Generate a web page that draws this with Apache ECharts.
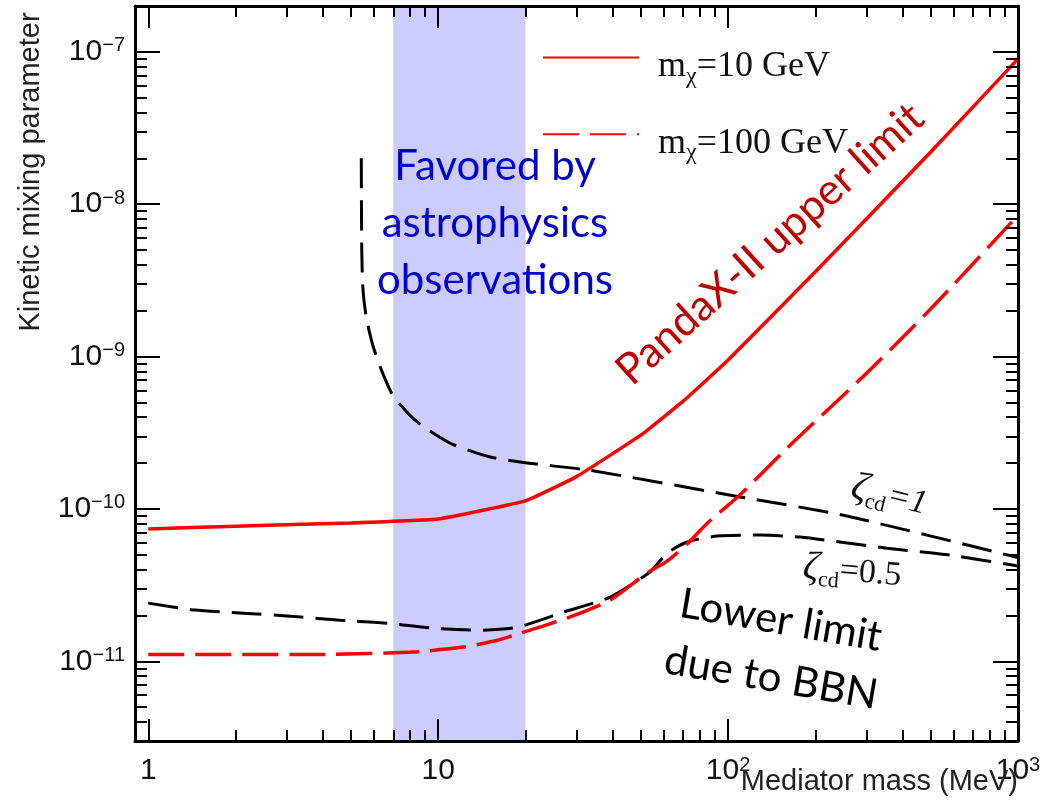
<!DOCTYPE html>
<html><head><meta charset="utf-8">
<script src="https://cdn.jsdelivr.net/npm/echarts@6/dist/echarts.min.js"></script>
<style>html,body{margin:0;padding:0;background:#fff}#c{width:1060px;height:811px}</style>
</head><body><div id="c"></div><script>
// ---- data ----
const massMajorTicks = [1, 10, 100, 1000];
const mixMajorTicks = [1e-11, 1e-10, 1e-9, 1e-8, 1e-7];
const massMinorTicks = [2,3,4,5,6,7,8,9,20,30,40,50,60,70,80,90,200,300,400,500,600,700,800,900];
const mixMinorTicks = [3e-12,4e-12,5e-12,6e-12,7e-12,8e-12,9e-12,
  2e-11,3e-11,4e-11,5e-11,6e-11,7e-11,8e-11,9e-11,
  2e-10,3e-10,4e-10,5e-10,6e-10,7e-10,8e-10,9e-10,
  2e-9,3e-9,4e-9,5e-9,6e-9,7e-9,8e-9,9e-9,
  2e-8,3e-8,4e-8,5e-8,6e-8,7e-8,8e-8,9e-8];
const favoredBand = [7, 20];

const m10_x = [1, 2, 5, 10, 20, 30, 50, 70, 100, 200, 500, 1000];
const m10_y = [7.4e-11, 7.7e-11, 8.1e-11, 8.6e-11, 1.13e-10, 1.63e-10, 3.05e-10, 5.1e-10, 9.5e-10, 3.6e-9, 2.2e-8, 9.0e-8];

const m100_x = [1, 4, 8.2, 12.2, 15.9, 19.2, 27.8, 39.2, 52.4, 61.6, 72.3, 84.9, 110, 167, 302, 509, 1000];
const m100_y = [1.11e-11, 1.11e-11, 1.15e-11, 1.24e-11, 1.37e-11, 1.53e-11, 1.92e-11, 2.52e-11, 3.79e-11, 4.55e-11, 5.9e-11, 8.09e-11, 1.24e-10, 2.72e-10, 7.85e-10, 2.13e-9, 8.47e-9];

const zeta1_x = [5.43, 5.45, 5.5, 5.65, 5.97, 6.4, 7.0, 8.5, 11, 15, 20.3, 33, 110, 250, 1000];
const zeta1_y = [2.0e-8, 5e-9, 2.8e-9, 1.8e-9, 1.16e-9, 8e-10, 5.5e-10, 3.7e-10, 2.7e-10, 2.2e-10, 2.0e-10, 1.8e-10, 1.2e-10, 9.1e-11, 4.8e-11];

const zeta05_x = [1, 1.45, 2.13, 3.09, 4.59, 6.67, 9.61, 13.9, 18.7, 27, 39.2, 53.8, 61.6, 72.3, 91.6, 129, 177, 353, 583, 1000];
const zeta05_y = [2.41e-11, 2.17e-11, 2.07e-11, 1.98e-11, 1.86e-11, 1.78e-11, 1.65e-11, 1.60e-11, 1.67e-11, 2.10e-11, 2.64e-11, 3.86e-11, 5.14e-11, 6.07e-11, 6.64e-11, 6.74e-11, 6.54e-11, 5.53e-11, 4.98e-11, 4.22e-11];

const legendNames = ['m10', 'm100'];
const legendLabels = { m10: '=10 GeV', m100: '=100 GeV' };

// ---- helpers ----
const zip = (xs, ys) => xs.map((x, i) => [x, ys[i]]);
const SANS = '"Liberation Sans", Arial, sans-serif';
const SERIF = '"Liberation Serif", "Times New Roman", serif';
const TEXTF = 'Lato, "Open Sans", sans-serif';

function powLabel(v) {
  const e = Math.round(Math.log10(v));
  if (e === 0) return '1';
  if (e === 1) return '10';
  return '10{s|' + (e < 0 ? '\u2212' + (-e) : String(e)) + '}';
}
const labelBase = {
  fontFamily: SANS, fontSize: 30, lineHeight: 32, color: '#111',
  rich: { s: { fontFamily: SANS, fontSize: 20, lineHeight: 14, verticalAlign: 'top', color: '#111' } }
};

function xAx(pos, ticks, len, showLine, showLabel) {
  return {
    type: 'log', logBase: 10, min: 0.9, max: 1000, position: pos, z: 10,
    axisLine: { show: showLine, onZero: false, lineStyle: { color: '#000', width: 3 } },
    axisTick: { show: true, inside: true, length: len, customValues: ticks, lineStyle: { color: '#000', width: 2 } },
    axisLabel: Object.assign({ show: showLabel, margin: 14, customValues: ticks, formatter: powLabel }, labelBase),
    splitLine: { show: false }, minorTick: { show: false }, minorSplitLine: { show: false }
  };
}
function yAx(pos, ticks, len, showLine, showLabel) {
  return {
    type: 'log', logBase: 10, min: 3e-12, max: 2e-7, position: pos, z: 10,
    axisLine: { show: showLine, onZero: false, lineStyle: { color: '#000', width: 3 } },
    axisTick: { show: true, inside: true, length: len, customValues: ticks, lineStyle: { color: '#000', width: 2 } },
    axisLabel: Object.assign({ show: showLabel, margin: 10, customValues: ticks, formatter: powLabel }, labelBase),
    splitLine: { show: false }, minorTick: { show: false }, minorSplitLine: { show: false }
  };
}

const chart = echarts.init(document.getElementById('c'), null, { renderer: 'canvas' });
const option = {
  animation: false,
  backgroundColor: '#fff',
  grid: { left: 135, right: 42, top: 6, bottom: 70, containLabel: false },
  xAxis: [
    xAx('bottom', massMajorTicks, 22, true, true),
    xAx('bottom', massMinorTicks, 11, false, false),
    xAx('top', massMajorTicks, 22, true, false),
    xAx('top', massMinorTicks, 11, false, false)
  ],
  yAxis: [
    yAx('left', mixMajorTicks, 25, true, true),
    yAx('left', mixMinorTicks, 12, false, false),
    yAx('right', mixMajorTicks, 25, true, false),
    yAx('right', mixMinorTicks, 12, false, false)
  ],
  legend: {
    orient: 'vertical', left: 537, top: 35, itemWidth: 96, itemHeight: 44, itemGap: 28,
    data: legendNames, selectedMode: false,
    itemStyle: { opacity: 0 },
    formatter: n => '{m|m}{s|\u03c7}{m|' + legendLabels[n] + '}',
    textStyle: {
      padding: [18, 0, 0, 14],
      rich: {
        m: { fontFamily: SERIF, fontSize: 36, lineHeight: 44, color: '#111' },
        s: { fontFamily: SERIF, fontSize: 24, lineHeight: 20, verticalAlign: 'bottom', color: '#111' }
      }
    }
  },
  series: [
    {
      name: 'band', type: 'line', data: [], z: 1, silent: true,
      markArea: {
        silent: true,
        itemStyle: { color: 'rgb(204,204,255)' },
        data: [[{ xAxis: favoredBand[0] }, { xAxis: favoredBand[1] }]]
      }
    },
    {
      name: 'm10', type: 'line', data: zip(m10_x, m10_y), showSymbol: false, symbol: 'none', z: 5, smooth: 0.1,
      lineStyle: { color: '#ff0000', width: 3.5, type: 'solid' }, itemStyle: { color: '#ff0000' }
    },
    {
      name: 'm100', type: 'line', data: zip(m100_x, m100_y), showSymbol: false, symbol: 'none', z: 5, smooth: 0.2,
      lineStyle: { color: '#ff0000', width: 3.5, type: [36, 11] }, itemStyle: { color: '#ff0000' }
    },
    {
      name: 'zeta1', type: 'line', data: zip(zeta1_x, zeta1_y), showSymbol: false, symbol: 'none', z: 4, smooth: 0.2,
      lineStyle: { color: '#000', width: 3, type: [30, 12] }
    },
    {
      name: 'zeta05', type: 'line', data: zip(zeta05_x, zeta05_y), showSymbol: false, symbol: 'none', z: 4, smooth: 0.2,
      lineStyle: { color: '#000', width: 3, type: [30, 12] }
    }
  ],
  graphic: [
    { type: 'text', z: 20, x: 31, y: 172, rotation: Math.PI / 2,
      style: { text: 'Kinetic mixing parameter', font: '29px ' + SANS, fill: '#222', align: 'center', verticalAlign: 'middle' } },
    { type: 'text', z: 20, x: 1018, y: 782,
      style: { text: 'Mediator mass (MeV)', font: '29px ' + SANS, fill: '#222', align: 'right', verticalAlign: 'middle' } },
    { type: 'text', z: 20, x: 495, y: 138,
      style: { text: 'Favored by\nastrophysics\nobservations', font: '42px ' + TEXTF, lineHeight: 57, fill: '#0000cc', align: 'center', verticalAlign: 'top' } },
    { type: 'text', z: 20, x: 770, y: 244, rotation: 0.733,
      style: { text: 'PandaX-II upper limit', font: '43px ' + TEXTF, fill: '#c00000', align: 'center', verticalAlign: 'middle' } },
    { type: 'text', z: 20, x: 776, y: 649, rotation: -0.17,
      style: { text: 'Lower limit\ndue to BBN', font: '42px ' + TEXTF, lineHeight: 58, fill: '#000', align: 'center', verticalAlign: 'middle' } },
    { type: 'text', z: 20, x: 889, y: 496, rotation: -0.24,
      style: { text: '{z|\u03b6}{s|cd}{e|=1}', align: 'center', verticalAlign: 'middle',
        rich: {
          z: { fontFamily: SERIF, fontStyle: 'italic', fontSize: 40, lineHeight: 44, fill: '#111' },
          s: { fontFamily: SERIF, fontSize: 22, lineHeight: 16, verticalAlign: 'bottom', fill: '#111' },
          e: { fontFamily: SERIF, fontStyle: 'italic', fontSize: 34, lineHeight: 44, fill: '#111' }
        } } },
    { type: 'text', z: 20, x: 852, y: 572, rotation: -0.09,
      style: { text: '{z|\u03b6}{s|cd}{e|=0.5}', align: 'center', verticalAlign: 'middle',
        rich: {
          z: { fontFamily: SERIF, fontStyle: 'italic', fontSize: 40, lineHeight: 44, fill: '#111' },
          s: { fontFamily: SERIF, fontSize: 22, lineHeight: 16, verticalAlign: 'bottom', fill: '#111' },
          e: { fontFamily: SERIF, fontSize: 34, lineHeight: 44, fill: '#111' }
        } } }
  ]
};
chart.setOption(option);
</script></body></html>
